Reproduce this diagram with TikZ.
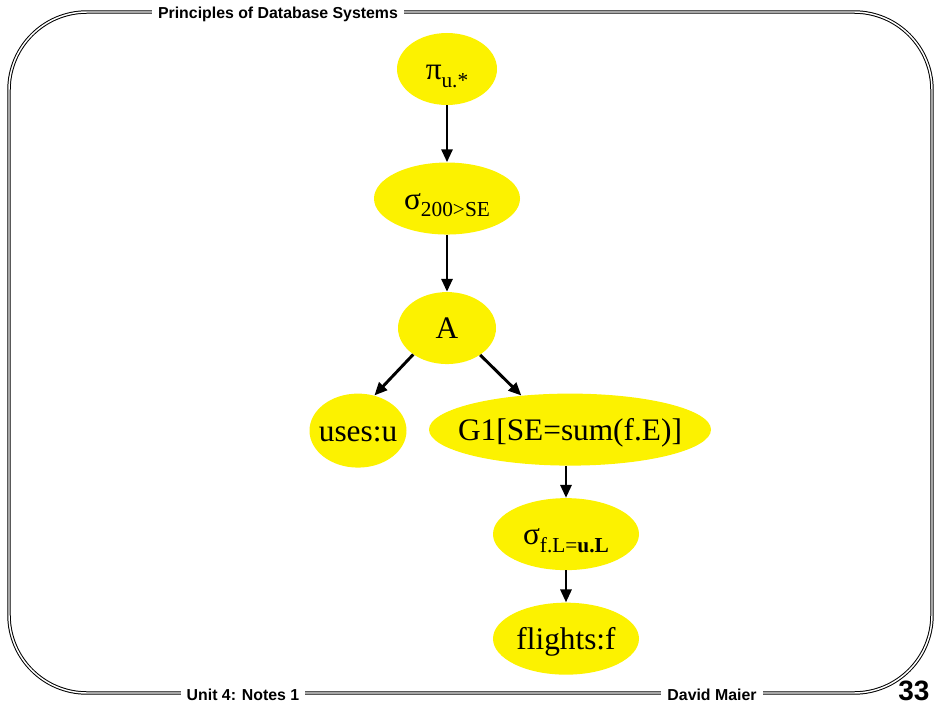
\documentclass[tikz,border=0pt]{standalone}
\usepackage{fontspec}
\setmainfont{Liberation Serif}
\setsansfont{Liberation Sans}
\usetikzlibrary{arrows.meta,positioning,shapes.geometric}

\definecolor{slideyellow}{RGB}{252,242,0}
\newcommand{\ovalfont}{\fontsize{23.5pt}{26pt}\selectfont}
\newcommand{\lowsub}[1]{\raisebox{-0.25em}{\fontsize{16pt}{18pt}\selectfont #1}}
\newcommand{\ovaltext}[1]{\makebox[0pt]{#1}}

\begin{document}
\begin{tikzpicture}[
    x=0.75pt, y=-0.75pt,
    >={Triangle[length=9.75pt,width=8.25pt]},
    ovalbox/.style={ellipse, fill=slideyellow, inner sep=0pt, minimum height=54pt,
        text height=18pt, text depth=2.25pt, font=\ovalfont},
    flowarrow/.style={->, line width=2.2pt},
    slideframe/.style={double, line width=0.75pt, double distance=1.1pt, rounded corners=58.5pt},
    footlabel/.style={fill=white, anchor=base, inner xsep=4.5pt, inner ysep=1pt, font=\sffamily\bfseries\fontsize{11.9pt}{13pt}\selectfont},
    pagelabel/.style={anchor=base west, inner sep=0pt, font=\sffamily\bfseries\fontsize{21pt}{24pt}\selectfont}
]
\useasboundingbox (0,0) rectangle (935,706);

% slide frame and its labels
\draw[slideframe] (9,12) rectangle (932,693);
\node[footlabel] (title) at (278,19) {Principles of Database Systems};
\node[footlabel] (unit) at (243,700) {Unit 4: Notes 1};
\node[footlabel] (author) at (712,700) {David Maier};
\node[pagelabel] (page) at (898,700) {33};

% query tree
\node[ovalbox, minimum width=75pt] (proj) at (447,69) {\ovaltext{π\lowsub{u.*}}};
\node[ovalbox, minimum width=109.5pt, below=42.75pt of proj] (select) {\ovaltext{σ\lowsub{200>SE}}};
\node[ovalbox, minimum width=73.5pt, below=42.75pt of select] (apply) {\ovaltext{A}};
\node[ovalbox, minimum width=72.75pt, minimum height=55.5pt, below=21.75pt of apply.south, xshift=-66.75pt] (uses) {\ovaltext{uses:u}};
\node[ovalbox, minimum width=211.5pt, below=21.75pt of apply.south, xshift=92.25pt] (group) {\ovaltext{G1[SE=sum(f.E)]}};
\node[ovalbox, minimum width=109.5pt, below=24pt of group.south, xshift=-3pt] (match) {\ovaltext{σ\lowsub{f.L=\textbf{u.L}}}};
\node[ovalbox, minimum width=109.5pt, below=24pt of match] (flights) {\ovaltext{flights:f}};

\draw[flowarrow] (proj) -- (select);
\draw[flowarrow] (select) -- (apply);
\draw[flowarrow] (apply.218) -- (uses.65);
\draw[flowarrow] (apply.321) -- (group.145);
\draw[flowarrow] (group.south -| match) -- (match);
\draw[flowarrow] (match) -- (flights);
\end{tikzpicture}
\end{document}
